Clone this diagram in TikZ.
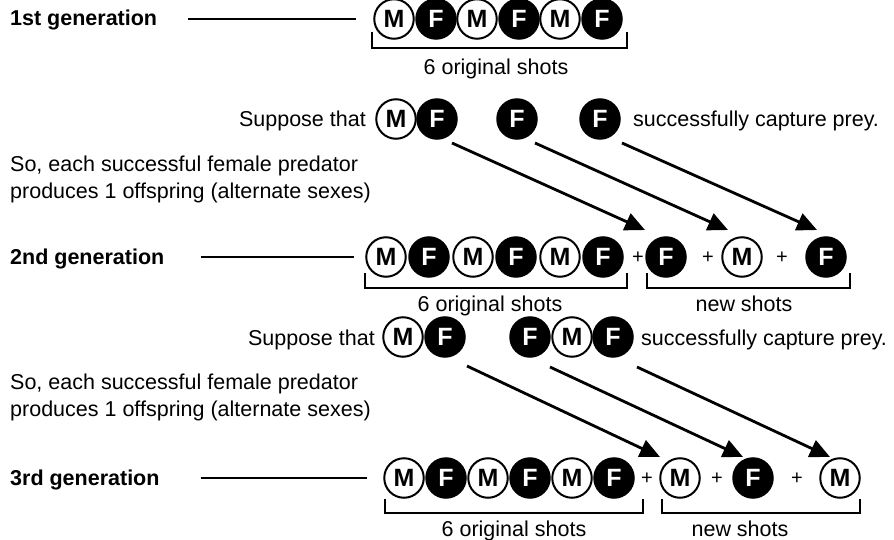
\documentclass[tikz,border=0pt]{standalone}
\usepackage{fontspec}
\setmainfont{Liberation Sans}
\usetikzlibrary{arrows.meta}
\begin{document}
\begin{tikzpicture}[x=1pt,y=-1pt,
  every node/.style={font=\fontsize{21.5}{24}\selectfont,inner sep=0pt},
  mc/.style={circle,draw,line width=2pt,minimum size=39.5pt,inner sep=0pt,fill=white,
             font=\fontsize{25}{25}\selectfont\bfseries},
  fc/.style={mc,fill=black,text=white},
  gen/.style={anchor=base west,font=\fontsize{21.5}{24}\selectfont\bfseries},
  plus/.style={font=\fontsize{20}{20}\selectfont},
  brk/.style={line width=1.3pt},
  glink/.style={line width=1.3pt},
  arr/.style={line width=2.8pt,-{Triangle[length=20pt,width=18pt]}}]
\useasboundingbox (0,0) rectangle (894,540);

% ---------- 1st generation ----------
\node[gen] (g1) at (10,26) {1st generation};
\node[mc] (a1) at (394,19) {M};
\node[fc] (a2) at (436,19) {F};
\node[mc] (a3) at (477,19) {M};
\node[fc] (a4) at (519,19) {F};
\node[mc] (a5) at (560,19) {M};
\node[fc] (a6) at (602,19) {F};
\draw[glink,shorten <=31pt,shorten >=17pt] (g1.east |- a1.west) -- (a1.west);
\draw[brk] (372,32) -- (372,48) -- (627,48) -- (627,32);
\node[anchor=base] (o1) at (496,75) {6 original shots};

% ---------- first selection ----------
\node[anchor=base east] (sup1) at (366,127) {Suppose that};
\node[mc] (s1a) at (396,119) {M};
\node[fc] (s1b) at (437,119) {F};
\node[fc] (s1c) at (517,119) {F};
\node[fc] (s1d) at (600,119) {F};
\node[anchor=base west] (cap1) at (633,127) {successfully capture prey.};
\node[anchor=base west] (so1a) at (10,172) {So, each successful female predator};
\node[anchor=base west] (so1b) at (10,199) {produces 1 offspring (alternate sexes)};

% ---------- 2nd generation ----------
\node[gen] (g2) at (10,264) {2nd generation};
\node[mc] (b1) at (386,257) {M};
\node[fc] (b2) at (429,257) {F};
\node[mc] (b3) at (473,257) {M};
\node[fc] (b4) at (516,257) {F};
\node[mc] (b5) at (560,257) {M};
\node[fc] (b6) at (603,257) {F};
\node[plus] (p21) at (638,258) {+};
\node[fc] (b7) at (666,257) {F};
\node[plus] (p22) at (708,258) {+};
\node[mc] (b8) at (742,257) {M};
\node[plus] (p23) at (782,258) {+};
\node[fc] (b9) at (826,257) {F};
\draw[glink,shorten <=36pt,shorten >=11pt] (g2.east |- b1.west) -- (b1.west);
\draw[brk] (365,273) -- (365,288) -- (627,288) -- (627,273);
\draw[brk] (647,273) -- (647,288) -- (850,288) -- (850,273);
\node[anchor=base] (o2) at (490,311) {6 original shots};
\node[anchor=base] (n2) at (744,311) {new shots};

\draw[arr] ([shift={(15,24)}]s1b.center) -- ([shift={(-21,-27)}]b7.center);
\draw[arr] ([shift={(18,24)}]s1c.center) -- ([shift={(-14,-27)}]b8.center);
\draw[arr] ([shift={(22,24)}]s1d.center) -- ([shift={(-9,-27)}]b9.center);

% ---------- second selection ----------
\node[anchor=base east] (sup2) at (375,345) {Suppose that};
\node[mc] (t1) at (403,337) {M};
\node[fc] (t2) at (445,337) {F};
\node[fc] (t3) at (530,337) {F};
\node[mc] (t4) at (572,337) {M};
\node[fc] (t5) at (613,337) {F};
\node[anchor=base west] (cap2) at (641,345) {successfully capture prey.};
\node[anchor=base west] (so2a) at (10,389) {So, each successful female predator};
\node[anchor=base west] (so2b) at (10,416) {produces 1 offspring (alternate sexes)};

% ---------- 3rd generation ----------
\node[gen] (g3) at (10,485) {3rd generation};
\node[mc] (c1) at (404,478) {M};
\node[fc] (c2) at (446,478) {F};
\node[mc] (c3) at (488,478) {M};
\node[fc] (c4) at (530,478) {F};
\node[mc] (c5) at (572,478) {M};
\node[fc] (c6) at (614,478) {F};
\node[plus] (p31) at (647,479) {+};
\node[mc] (c7) at (680,478) {M};
\node[plus] (p32) at (717,479) {+};
\node[fc] (c8) at (753,478) {F};
\node[plus] (p33) at (797,479) {+};
\node[mc] (c9) at (840,478) {M};
\draw[glink,shorten <=41pt,shorten >=16pt] (g3.east |- c1.west) -- (c1.west);
\draw[brk] (385,499) -- (385,513) -- (643,513) -- (643,499);
\draw[brk] (662,499) -- (662,513) -- (860,513) -- (860,499);
\node[anchor=base] (o3) at (514,536) {6 original shots};
\node[anchor=base] (n3) at (740,536) {new shots};

\draw[arr] ([shift={(22,29)}]t2.center) -- ([shift={(-20,-21)}]c7.center);
\draw[arr] ([shift={(20,30)}]t3.center) -- ([shift={(-10,-21)}]c8.center);
\draw[arr] ([shift={(24,30)}]t5.center) -- ([shift={(-10,-21)}]c9.center);
\end{tikzpicture}
\end{document}
